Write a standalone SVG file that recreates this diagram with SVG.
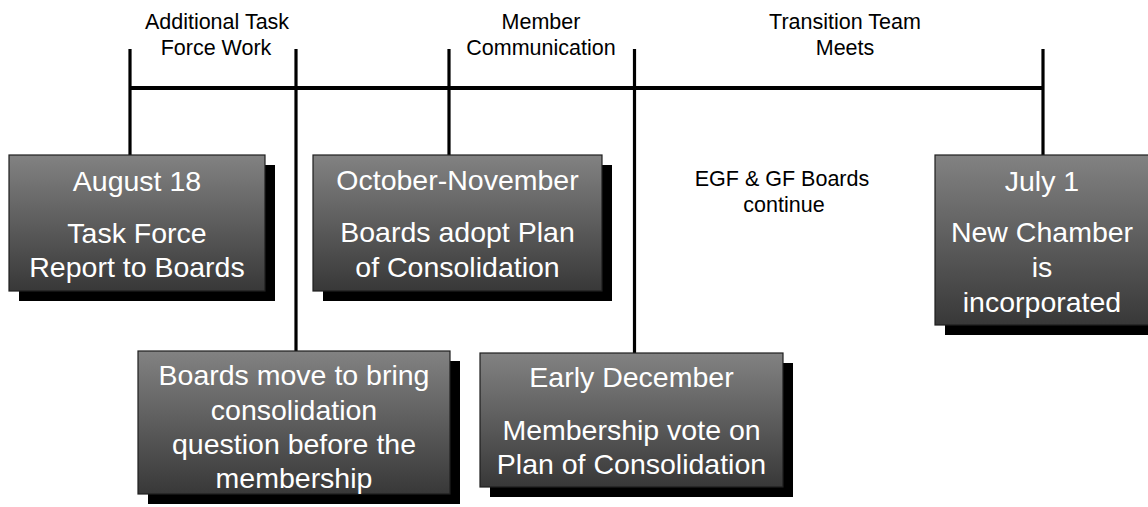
<svg xmlns="http://www.w3.org/2000/svg" width="1148" height="507" viewBox="0 0 1148 507">
  <defs>
    <linearGradient id="boxGrad" x1="0" y1="0" x2="0" y2="1">
      <stop offset="0" stop-color="#828282"/>
      <stop offset="1" stop-color="#383838"/>
    </linearGradient>
  </defs>
  <style>
    .shadow { fill: #000000; }
    .box { fill: url(#boxGrad); stroke: #1e1e1e; stroke-width: 1.2; }
    .bt { font-family: "Liberation Sans", Arial, sans-serif; font-size: 28.5px; fill: #ffffff; text-anchor: middle; }
    .lbl { font-family: "Liberation Sans", Arial, sans-serif; font-size: 21.5px; fill: #000000; text-anchor: middle; }
    .tick { stroke: #000000; stroke-width: 3.2; fill: none; }
    .axis { stroke: #000000; stroke-width: 4; fill: none; }
  </style>
  <rect width="1148" height="507" fill="#ffffff"/>

  <g id="connectors">
    <line class="axis" x1="130" y1="88" x2="1043" y2="88"/>
    <line class="tick" x1="130" y1="49" x2="130" y2="155"/>
    <line class="tick" x1="296" y1="49" x2="296" y2="351"/>
    <line class="tick" x1="449" y1="49" x2="449" y2="155"/>
    <line class="tick" x1="634.5" y1="49" x2="634.5" y2="353"/>
    <line class="tick" x1="1043" y1="49" x2="1043" y2="155"/>
  </g>

  <g id="label-additional">
    <text class="lbl" x="217" y="29">Additional Task</text>
    <text class="lbl" x="216" y="55">Force Work</text>
  </g>
  <g id="label-member">
    <text class="lbl" x="541" y="29">Member</text>
    <text class="lbl" x="541" y="55">Communication</text>
  </g>
  <g id="label-transition">
    <text class="lbl" x="845" y="29">Transition Team</text>
    <text class="lbl" x="845" y="55">Meets</text>
  </g>
  <g id="label-egf">
    <text class="lbl" x="782" y="186">EGF &amp; GF Boards</text>
    <text class="lbl" x="784" y="212">continue</text>
  </g>

  <g id="node-aug18">
    <rect class="shadow" x="19" y="165" width="256" height="136"/>
    <rect class="box" x="9" y="155" width="256" height="136"/>
    <text class="bt" x="137" y="191">August 18</text>
    <text class="bt" x="137" y="243">Task Force</text>
    <text class="bt" x="137" y="277">Report to Boards</text>
  </g>

  <g id="node-octnov">
    <rect class="shadow" x="323" y="165" width="289" height="136"/>
    <rect class="box" x="313" y="155" width="289" height="136"/>
    <text class="bt" x="457.5" y="190">October-November</text>
    <text class="bt" x="457.5" y="242">Boards adopt Plan</text>
    <text class="bt" x="457.5" y="277">of Consolidation</text>
  </g>

  <g id="node-july1">
    <rect class="shadow" x="945" y="165" width="214" height="170"/>
    <rect class="box" x="935" y="155" width="214" height="170"/>
    <text class="bt" x="1042" y="191">July 1</text>
    <text class="bt" x="1042" y="242">New Chamber</text>
    <text class="bt" x="1042" y="277">is</text>
    <text class="bt" x="1042" y="312">incorporated</text>
  </g>

  <g id="node-boardsmove">
    <rect class="shadow" x="148" y="361" width="312" height="143"/>
    <rect class="box" x="138" y="351" width="312" height="143"/>
    <text class="bt" x="294" y="385">Boards move to bring</text>
    <text class="bt" x="294" y="420">consolidation</text>
    <text class="bt" x="294" y="454">question before the</text>
    <text class="bt" x="294" y="488">membership</text>
  </g>

  <g id="node-earlydec">
    <rect class="shadow" x="490" y="363" width="303" height="134"/>
    <rect class="box" x="480" y="353" width="303" height="134"/>
    <text class="bt" x="631.5" y="387">Early December</text>
    <text class="bt" x="631.5" y="440">Membership vote on</text>
    <text class="bt" x="631.5" y="474">Plan of Consolidation</text>
  </g>
</svg>
